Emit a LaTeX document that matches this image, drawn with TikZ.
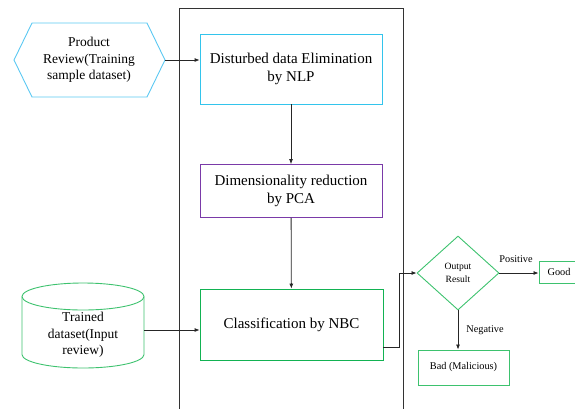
\documentclass[tikz,border=0pt]{standalone}
\usepackage{fontspec}
\setmainfont{Liberation Serif}
\newfontfamily\timesfont{Liberation Serif}
\usetikzlibrary{shapes.geometric,arrows.meta}
\definecolor{hexblue}{HTML}{5BC8F2}
\definecolor{nlpblue}{HTML}{33C4EC}
\definecolor{pcapurple}{HTML}{7A3AA8}
\definecolor{nbcgreen}{HTML}{12B252}
\definecolor{litegreen}{HTML}{3DC26E}

\begin{document}
\begin{tikzpicture}[x=1pt,y=-1pt,
  box/.style={draw,line width=0.8pt,minimum width=182pt,align=center,inner sep=2pt,font=\timesfont\fontsize{15}{18}\selectfont},
  smallbox/.style={draw=litegreen,line width=0.9pt,align=center,inner sep=1pt,font=\timesfont\fontsize{10.3}{12}\selectfont},
  lbl/.style={font=\timesfont\fontsize{10.3}{12}\selectfont},
  flow/.style={draw=black!85,line width=0.8pt,-{Latex[length=5pt,width=4pt]}}]
\clip (0,0) rectangle (575,408);
% outer frame (open at the bottom)
\draw[black!80,line width=0.9pt] (179,8) rectangle (403,420);

% input hexagon
\coordinate (hexL) at (14,60); \coordinate (hexR) at (165,60);
\draw[hexblue,line width=0.9pt] (hexL)--(32,23)--(147,23)--(hexR)--(147,97)--(32,97)--cycle;
\node[align=center,font=\timesfont\fontsize{13.5}{16.7}\selectfont] (prod) at (89,60) {Product\\Review(Training\\sample dataset)};

% trained dataset cylinder
\coordinate (cylR) at (144,330);
\draw[litegreen,line width=0.9pt] (83,296.5) ellipse (61 and 13.5);
\draw[litegreen,line width=0.9pt] (22,296.5)--(22,354.5) arc[start angle=180,end angle=360,x radius=61,y radius=-13.5]--(144,296.5);
\node[align=center,font=\timesfont\fontsize{13.5}{16.7}\selectfont] (trained) at (83,335) {Trained\\dataset(Input\\review)};

% processing steps
\node[box,draw=nlpblue,minimum height=70pt] (nlp) at (291,69) {Disturbed data Elimination\\by NLP};
\node[box,draw=pcapurple,minimum height=53pt] (pca) at (291,191) {Dimensionality reduction\\by PCA};
\node[box,draw=nbcgreen,minimum height=71pt,minimum width=183pt] (nbc) at (291.5,324.5) {Classification by NBC};

% decision and outcomes
\node[diamond,draw=litegreen,line width=0.9pt,minimum width=82pt,minimum height=74pt,inner sep=0pt,align=center,font=\timesfont\fontsize{9.6}{12.3}\selectfont] (out) at (458,273) {Output\\Result};
\node[smallbox,minimum width=40pt,minimum height=22pt] (good) at (559,272) {Good};
\node[smallbox,minimum width=91pt,minimum height=35pt] (bad) at (463.5,367.5) {Bad (Malicious)};
\node[lbl] (pos) at (516,259) {Positive};
\node[lbl] (neg) at (485,330) {Negative};

% connectors
\draw[flow] (hexR) -- (hexR -| nlp.west);
\draw[flow] (nlp) -- (pca);
\draw[flow] (pca) -- (nbc);
\draw[flow] (cylR) -- (cylR -| nbc.west);
\coordinate (nbcR) at (nbc.east |- 0,347);
\draw[flow] (nbcR) -- (399,347) -- (399,273) -- (out.west);
\draw[flow] (out.east) -- (good.west |- out.east);
\draw[flow] (out.south) -- (out.south |- bad.north);
\end{tikzpicture}
\end{document}
